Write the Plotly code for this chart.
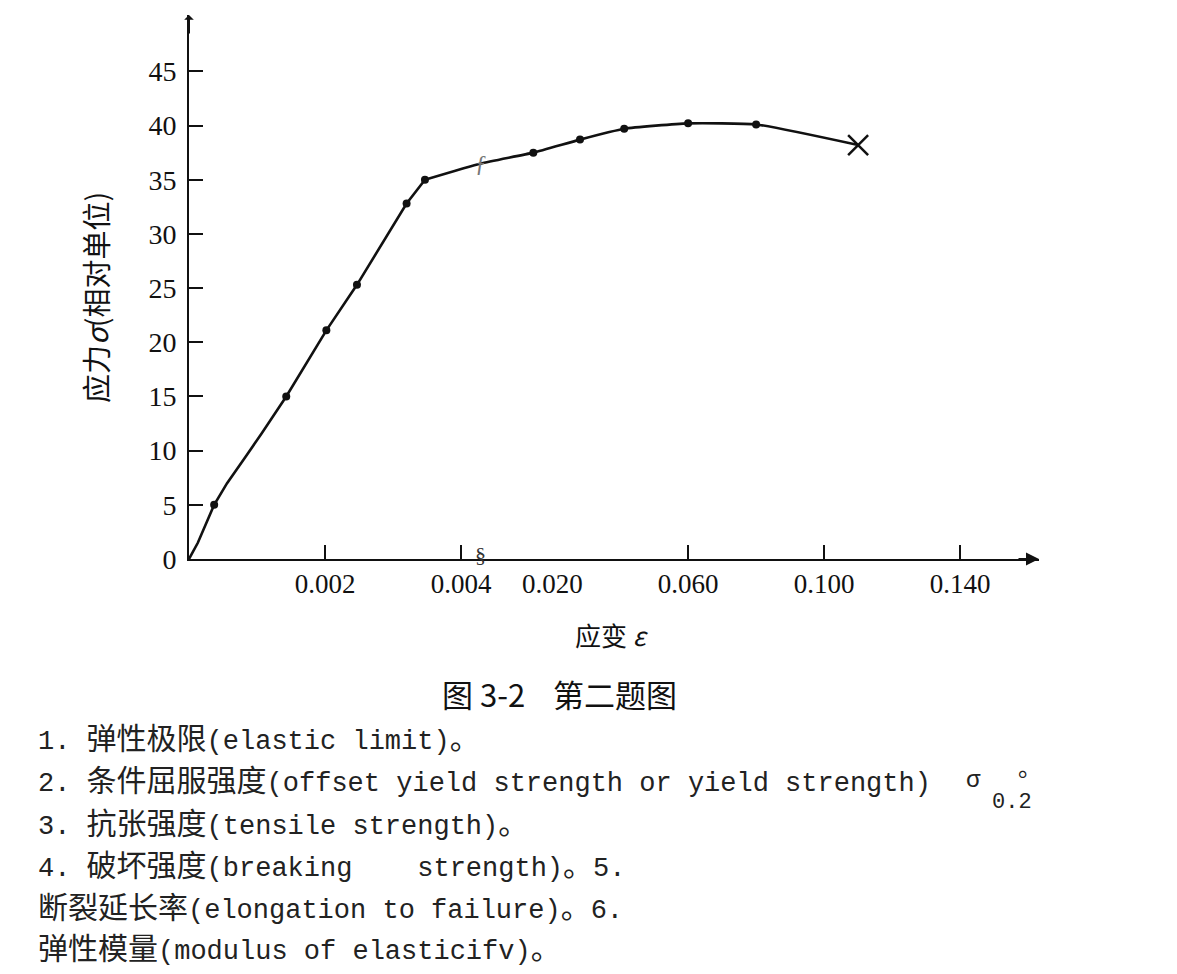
import plotly.graph_objects as go

# ---------------- data ----------------
elastic_strain = [0, 0.00013, 0.00037, 0.00056, 0.00085, 0.00107, 0.00143, 0.00174, 0.00202, 0.00247, 0.0032, 0.00347]
elastic_stress = [0, 1.5, 5.0, 7.0, 9.6, 11.6, 15.0, 18.2, 21.1, 25.3, 32.8, 35.0]
elastic_dot_strain = [0.00037, 0.00143, 0.00202, 0.00247, 0.0032]
elastic_dot_stress = [5.0, 15.0, 21.1, 25.3, 32.8]

plastic_strain = [0.00347, 0.0075, 0.0167, 0.0282, 0.0412, 0.060, 0.080, 0.110]
plastic_stress = [35.0, 36.5, 37.5, 38.7, 39.7, 40.2, 40.1, 38.2]
plastic_dot_strain = [0.00347, 0.0167, 0.0282, 0.0412, 0.060, 0.080]
plastic_dot_stress = [35.0, 37.5, 38.7, 39.7, 40.2, 40.1]

fracture_strain = [0.110]
fracture_stress = [38.2]

break_strain = 0.0075
break_stress = 36.5

x_tick_strain = [0.002, 0.004, 0.060, 0.100, 0.140]
x_tick_text = ["0.002", "0.004", "0.060", "0.100", "0.140"]
x_extra_label_strain = 0.020
x_extra_label_text = "0.020"
y_ticks = [0, 5, 10, 15, 20, 25, 30, 35, 40, 45]

x_title = "应变\u00a0<i>ε</i>"
y_title = "应力<i>σ</i>(相对单位)"
caption = "图 3-2\u00a0\u00a0\u00a0\u00a0第二题图"

# ---------------- broken strain scale ----------------
U_020 = 2.67  # display position of strain 0.020 (1 unit = 0.002 strain in the linear part)


def to_u(s):
    if s <= 0.004:
        return s / 0.002
    if s >= 0.020:
        return U_020 + (s - 0.020) / 0.040
    return 2 + (s - 0.004) / 0.016 * (U_020 - 2)


def U(lst):
    return [to_u(v) for v in lst]


# ---------------- layout geometry ----------------
OFF = 8  # page body margin
W, H = 1177 - OFF, 974 - OFF
ML, MT = 189 - OFF, 15 - OFF
PLOT_RIGHT, PLOT_BOTTOM = 1039 - OFF, 559 - OFF
MR, MB = W - PLOT_RIGHT, H - PLOT_BOTTOM
PW, PH = PLOT_RIGHT - ML, PLOT_BOTTOM - MT
X_MAX = 6.25
Y_MAX = 50.2


def px(xp):
    return (xp - OFF - ML) / PW


def py(yp):
    return (PLOT_BOTTOM - (yp - OFF)) / PH


INK = "#111111"
SERIF = "Liberation Serif, Times New Roman, Noto Sans CJK SC, serif"
CJK = "Noto Sans CJK SC, Liberation Serif, serif"
MONO = "Liberation Mono, Noto Sans CJK SC, monospace"

fig = go.Figure()

fig.add_trace(go.Scatter(x=U(elastic_strain), y=elastic_stress, mode="lines",
                         line=dict(color=INK, width=2.6), showlegend=False, hoverinfo="skip"))
fig.add_trace(go.Scatter(x=U(plastic_strain + fracture_strain), y=plastic_stress + fracture_stress,
                         mode="lines", line=dict(color=INK, width=2.6, shape="spline", smoothing=0.45),
                         showlegend=False, hoverinfo="skip"))
fig.add_trace(go.Scatter(x=U(elastic_dot_strain + plastic_dot_strain),
                         y=elastic_dot_stress + plastic_dot_stress, mode="markers",
                         marker=dict(color=INK, size=8), showlegend=False))
fig.add_trace(go.Scatter(x=U(fracture_strain), y=fracture_stress, mode="markers",
                         marker=dict(symbol="x-thin", size=20, line=dict(color=INK, width=2.5)),
                         showlegend=False))

annotations = []
# break marks
annotations.append(dict(x=to_u(break_strain), y=break_stress, text="ƒ", showarrow=False,
                        font=dict(family=SERIF, size=24, color="#777777"), xref="x", yref="y"))
annotations.append(dict(x=to_u(break_strain), y=0, text="§", showarrow=False, yshift=5,
                        font=dict(family=SERIF, size=22, color="#333333"), xref="x", yref="y"))
# extra x label without tick
annotations.append(dict(x=to_u(x_extra_label_strain), y=0, yref="y", xref="x", text=x_extra_label_text,
                        showarrow=False, yanchor="top", yshift=-8,
                        font=dict(family=SERIF, size=27, color=INK)))
# axis arrows
annotations.append(dict(x=X_MAX, y=0, xref="x", yref="y", ax=-22, ay=0, showarrow=True,
                        arrowhead=2, arrowsize=1.3, arrowwidth=2, arrowcolor=INK, text=""))
annotations.append(dict(x=0, y=Y_MAX, xref="x", yref="y", ax=0, ay=20, showarrow=True,
                        arrowhead=1, arrowsize=0.8, arrowwidth=2, arrowcolor=INK, text=""))
# axis titles
annotations.append(dict(x=px(612), y=py(634), xref="paper", yref="paper", text=x_title,
                        xanchor="center", yanchor="middle",
                        showarrow=False, font=dict(family=CJK, size=26, color=INK)))
annotations.append(dict(x=px(95), y=py(298), xref="paper", yref="paper", text=y_title,
                        xanchor="center", yanchor="middle",
                        textangle=-90, showarrow=False, font=dict(family=CJK, size=29, color=INK)))
# caption
annotations.append(dict(x=px(559), y=py(693), xref="paper", yref="paper", text=caption,
                        xanchor="center", yanchor="middle",
                        showarrow=False, font=dict(family=CJK, size=31, color=INK)))


def cj(t):
    return '<span style="font-size:30px">' + t + '</span>'


text_lines = [
    "1. " + cj("弹性极限") + "(elastic limit)" + cj("。"),
    "2. " + cj("条件屈服强度") + "(offset yield strength or yield strength)",
    "3. " + cj("抗张强度") + "(tensile strength)" + cj("。"),
    "4. " + cj("破坏强度") + "(breaking\u00a0\u00a0\u00a0\u00a0strength)" + cj("。") + "5.",
    cj("断裂延长率") + "(elongation to failure)" + cj("。") + "6.",
    cj("弹性模量") + "(modulus of elasticifv)" + cj("。"),
]
line_y = [740, 782, 825, 867, 909, 950]
for t, yy in zip(text_lines, line_y):
    annotations.append(dict(x=px(36), y=py(yy), xref="paper", yref="paper", text=t,
                            xanchor="left", yanchor="middle", showarrow=False,
                            font=dict(family=MONO, size=27, color="#222222")))
# sigma 0.2 pieces of line 2
annotations.append(dict(x=px(973), y=py(780), xref="paper", yref="paper", text="σ",
                        xanchor="center", yanchor="middle",
                        showarrow=False, font=dict(family=MONO, size=24, color="#222222")))
annotations.append(dict(x=px(1030), y=py(766), xref="paper", yref="paper", text="。",
                        xanchor="center", yanchor="middle",
                        showarrow=False, font=dict(family=CJK, size=24, color="#222222")))
annotations.append(dict(x=px(1012), y=py(802), xref="paper", yref="paper", text="0.2",
                        xanchor="center", yanchor="middle",
                        showarrow=False, font=dict(family=MONO, size=22, color="#222222")))

fig.update_layout(
    width=W, height=H,
    margin=dict(l=ML, r=MR, t=MT, b=MB, pad=0),
    paper_bgcolor="white", plot_bgcolor="white",
    annotations=annotations,
    xaxis=dict(range=[0, X_MAX], showgrid=False, zeroline=False, showline=True, linecolor=INK,
               linewidth=2, ticks="inside", ticklen=14, tickwidth=1.5, tickcolor=INK,
               tickvals=U(x_tick_strain), ticktext=x_tick_text, ticklabelstandoff=0,
               tickfont=dict(family=SERIF, size=27, color=INK)),
    yaxis=dict(range=[0, Y_MAX], showgrid=False, zeroline=False, showline=True, linecolor=INK,
               linewidth=2, ticks="inside", ticklen=14, tickwidth=1.5, tickcolor=INK,
               tickvals=y_ticks, ticktext=[str(v) for v in y_ticks], ticklabelstandoff=5,
               tickfont=dict(family=SERIF, size=28, color=INK)),
)

fig.write_html("out.html")
